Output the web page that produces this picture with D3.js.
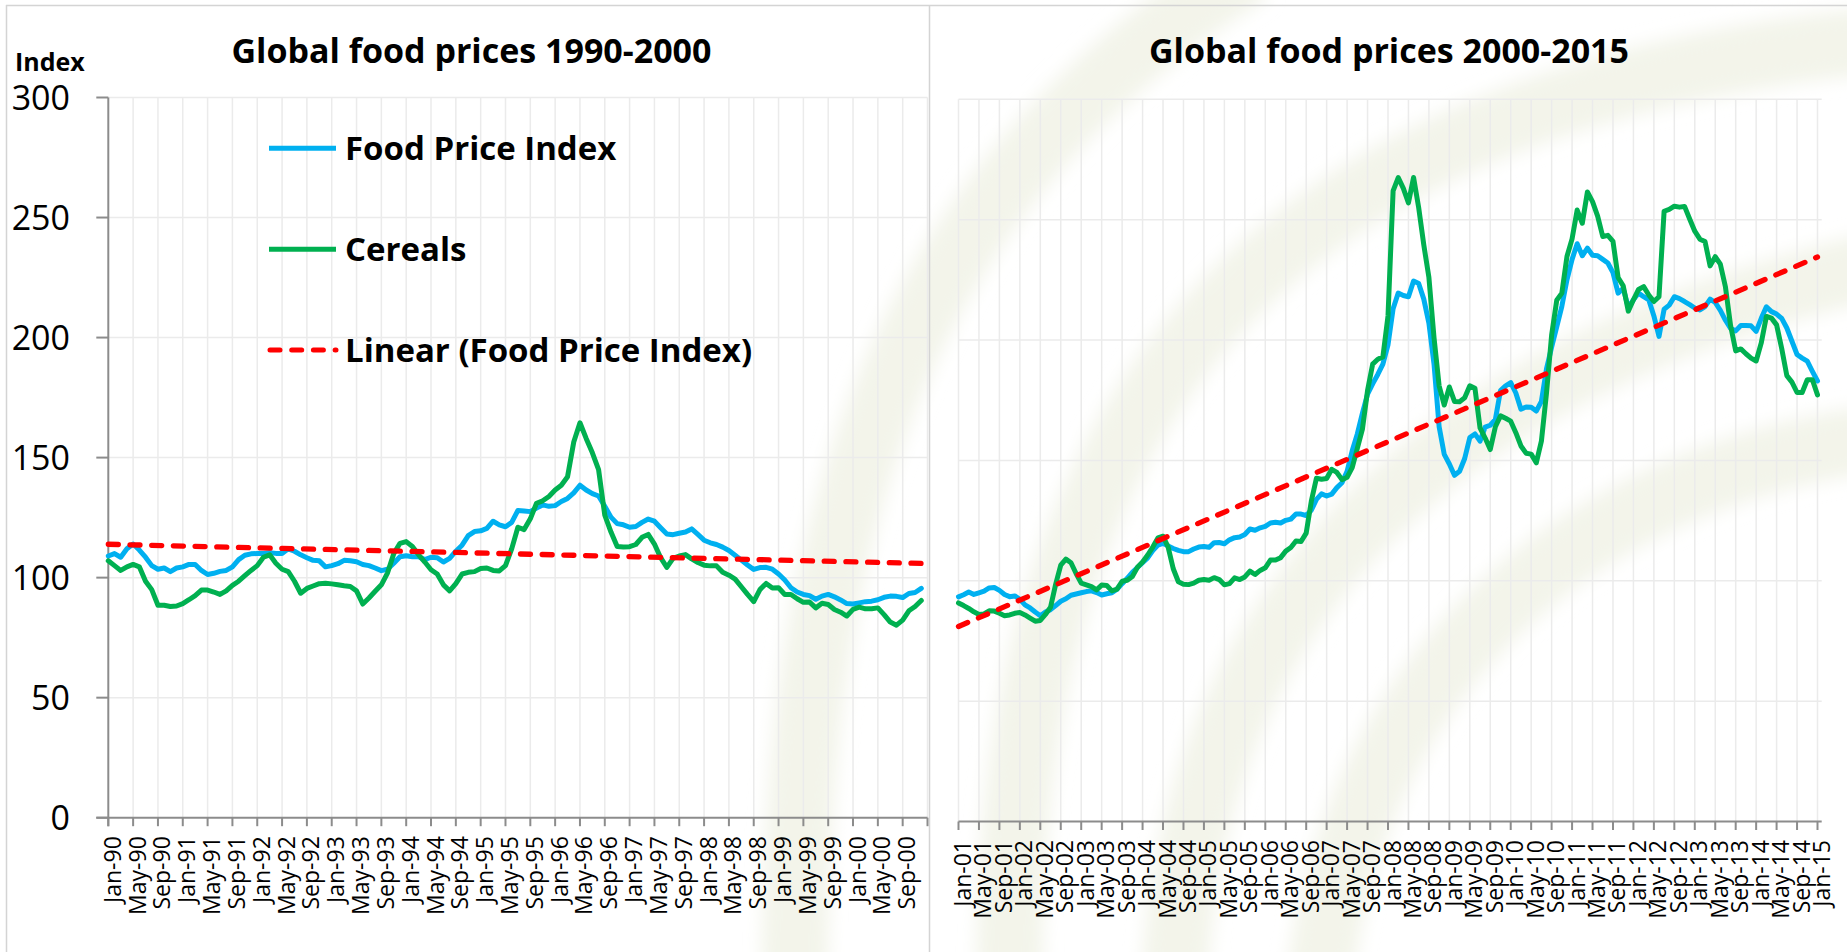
<!DOCTYPE html>
<html><head><meta charset="utf-8">
<script src="https://cdn.jsdelivr.net/npm/d3@7"></script>
<style>
html,body{margin:0;padding:0;background:#fff;}
svg{display:block;}
text{font-family:"Open Sans","Liberation Sans",sans-serif;fill:#000;}
</style></head><body>
<svg id="chart" width="1847" height="952"></svg>
<script>
// ---------------- DATA ----------------
const titles = ["Global food prices 1990-2000", "Global food prices 2000-2015"];
const yAxisTitle = "Index";
const legendLabels = ["Food Price Index", "Cereals", "Linear (Food Price Index)"];
const yTicks = [0, 50, 100, 150, 200, 250, 300];

// Monthly, Jan-1990 .. Dec-2000
const fpiLeft = [
 109.0,110.0,108.5,112.0,114.0,111.5,108.5,105.0,103.5,104.0,102.5,104.0,
 104.5,105.5,105.5,103.0,101.3,101.8,102.6,103.0,104.5,107.5,109.3,109.9,
 110.1,110.1,110.4,110.1,110.1,112.0,111.0,109.5,108.3,107.2,107.0,104.5,
 105.0,105.8,107.2,107.0,106.6,105.5,105.0,104.0,102.9,103.5,106.0,108.7,
 109.1,108.7,108.7,107.5,108.5,108.3,106.5,108.0,111.0,113.5,117.5,119.2,
 119.5,120.5,123.5,122.0,121.2,123.0,128.0,127.8,127.5,129.0,130.3,129.7,
 130.0,131.7,133.0,135.3,138.5,136.5,135.0,134.0,129.7,125.2,122.5,122.0,
 121.0,121.3,123.0,124.4,123.5,120.8,118.2,117.9,118.5,119.0,120.3,118.0,
 115.6,114.5,113.8,112.7,111.3,109.3,107.3,105.3,103.4,104.2,104.3,103.5,
 101.5,99.0,95.8,94.0,93.0,92.5,91.0,92.3,93.0,92.0,90.7,89.2,
 89.0,89.5,90.0,90.2,90.8,91.8,92.3,92.2,91.7,93.4,93.8,95.5
];
const cerealsLeft = [
 107.0,105.0,103.0,104.5,105.5,104.5,98.5,95.0,88.5,88.5,88.0,88.2,
 89.2,90.8,92.5,94.8,94.8,94.0,93.0,94.5,96.8,98.5,100.8,103.0,
 105.0,108.5,109.5,106.0,103.5,102.5,98.5,93.5,95.5,96.5,97.5,97.7,
 97.4,97.0,96.6,96.3,94.5,89.0,91.5,94.3,97.0,102.0,110.0,114.3,
 115.0,113.0,109.5,106.5,103.3,101.5,97.0,94.5,97.5,101.5,102.2,102.5,
 103.8,104.0,103.0,102.8,105.0,112.0,121.0,120.0,124.5,131.0,132.0,133.8,
 136.5,138.5,142.0,156.5,164.5,158.0,152.0,145.0,126.0,119.0,113.0,112.8,
 112.9,113.8,116.8,118.0,114.0,108.3,104.3,108.0,109.0,109.6,107.8,106.3,
 105.2,104.9,104.9,102.2,101.0,99.4,96.2,93.0,90.0,95.0,97.6,95.7,
 95.8,93.0,93.0,91.2,89.7,89.8,87.4,89.3,88.8,86.7,85.6,84.0,
 86.8,87.7,87.0,87.0,87.4,84.6,81.5,80.2,82.3,86.2,88.0,90.5
];
// Monthly, Jan-2001 .. Jan-2015
const fpiRight = [
 93.3,94.2,95.3,94.3,95.0,95.7,97.0,97.2,96.0,94.3,93.4,93.7,
 92.3,90.0,88.7,87.0,85.5,87.0,88.0,89.7,91.5,92.5,94.0,94.5,
 95.0,95.5,95.8,95.1,94.1,94.6,95.0,96.5,98.8,101.0,103.5,105.5,
 107.5,109.5,112.5,114.8,115.5,114.5,113.4,112.6,112.1,112.1,113.2,114.0,
 114.2,113.9,115.8,115.9,115.4,117.0,117.9,118.2,119.2,121.5,121.0,122.0,
 122.6,124.0,124.3,124.0,125.1,125.6,127.7,127.7,127.1,129.3,133.8,136.1,
 135.2,136.0,138.7,140.7,145.5,154.0,161.0,169.6,177.5,181.8,185.7,190.0,
 198.0,213.0,219.5,218.5,218.0,224.5,223.5,217.0,207.0,190.0,164.0,152.5,
 148.5,143.8,145.5,150.8,159.5,161.0,158.0,163.8,164.6,167.0,179.0,181.0,
 182.3,178.0,171.3,172.2,172.1,170.5,174.5,188.0,197.0,205.5,214.0,225.0,
 233.5,240.0,235.0,238.2,235.2,235.0,233.5,232.0,228.0,219.5,221.5,213.5,
 216.7,219.5,218.0,216.7,210.0,201.5,212.8,214.5,218.0,217.2,216.0,214.7,
 213.3,212.5,213.9,217.0,215.6,212.3,208.2,204.8,203.8,206.0,206.0,205.9,
 203.6,209.0,213.8,211.8,210.8,209.0,205.0,199.5,194.0,192.5,191.2,187.0,
 183.0
];
const cerealsRight = [
 90.8,89.7,88.5,87.1,86.0,86.2,87.5,87.4,86.5,85.5,85.8,86.5,
 86.8,85.8,84.5,83.2,83.5,86.0,89.0,98.5,106.5,109.0,107.5,103.0,
 99.0,98.3,97.6,96.2,98.2,98.0,95.8,96.5,99.8,100.2,101.8,105.6,
 107.8,110.7,114.0,117.8,118.5,114.0,105.0,99.6,98.6,98.4,99.0,100.2,
 100.5,100.2,101.3,100.5,98.3,98.8,101.2,100.5,101.6,104.0,102.6,104.3,
 105.4,108.6,108.6,109.6,112.3,113.8,116.5,116.3,119.8,133.0,142.6,142.2,
 142.5,146.3,145.0,142.0,143.0,147.0,155.0,163.0,179.0,190.0,192.0,193.0,
 210.0,262.0,267.5,263.0,257.0,267.5,255.0,239.5,226.0,201.0,181.0,173.0,
 180.5,174.5,174.4,176.0,181.0,180.0,163.5,159.3,154.5,164.0,168.5,167.5,
 166.3,161.5,156.0,153.0,152.6,149.0,158.0,178.0,202.0,216.5,219.5,234.7,
 242.0,254.0,248.5,261.5,257.5,251.5,243.0,243.5,241.0,226.0,222.5,212.0,
 216.7,221.0,222.2,218.7,216.0,218.0,253.5,254.3,255.6,255.2,255.5,250.3,
 245.2,241.9,240.9,230.8,234.6,231.5,222.0,206.0,195.5,196.3,194.3,192.5,
 191.3,198.8,209.8,209.1,206.3,196.5,185.2,182.5,178.2,178.2,183.5,183.5,
 177.2
];
// Linear trend of the Food Price Index: value at first and last month
const trendLeft = [113.9, 105.9];
const trendRight = [81.0, 234.5];

const startLeft = new Date(1990, 0, 1);
const startRight = new Date(2001, 0, 1);
const fmtMonth = d3.timeFormat("%b-%y");
const catsLeft = d3.range(fpiLeft.length).map(i => fmtMonth(d3.timeMonth.offset(startLeft, i)));
const catsRight = d3.range(fpiRight.length).map(i => fmtMonth(d3.timeMonth.offset(startRight, i)));

// ---------------- STYLE ----------------
const C_BLUE = "#00b0f0", C_GREEN = "#00b050", C_RED = "#ff0000";
const C_GRID = "#ebebeb", C_AXIS = "#8c8c8c", C_BORDER = "#d4d4d4";

const svg = d3.select("#chart");
svg.append("rect").attr("width", 1847).attr("height", 952).attr("fill", "#fff");

// faint background watermark (decorative arcs)
const defs = svg.append("defs");
defs.append("filter").attr("id", "soft").attr("x", "-20%").attr("y", "-20%").attr("width", "140%").attr("height", "140%")
  .append("feGaussianBlur").attr("stdDeviation", 9);
const wm = svg.append("g").attr("filter", "url(#soft)").attr("fill", "none")
  .attr("stroke", "#f3f4ea").attr("stroke-width", 66);
[
  "M795,980 C795,550 880,200 1250,-30",
  "M1010,980 C1005,420 1250,100 1880,40",
  "M1175,980 C1190,600 1450,360 1880,265",
  "M1320,980 C1350,700 1550,480 1880,438"
].forEach(d => wm.append("path").attr("d", d));

// borders
svg.append("line").attr("x1", 6).attr("x2", 1847).attr("y1", 5.5).attr("y2", 5.5).attr("stroke", C_BORDER).attr("stroke-width", 1.5);
svg.append("line").attr("x1", 6.5).attr("x2", 6.5).attr("y1", 5).attr("y2", 952).attr("stroke", C_BORDER).attr("stroke-width", 1.5);
svg.append("line").attr("x1", 929.5).attr("x2", 929.5).attr("y1", 5).attr("y2", 952).attr("stroke", C_BORDER).attr("stroke-width", 1.5);

function drawPanel(opt) {
  const g = svg.append("g");
  const x = d3.scaleLinear().domain([0, opt.tickSpan]).range([opt.x0, opt.x1]);
  const y = d3.scaleLinear().domain([0, 300]).range([opt.y0, opt.y1]);
  const tickIdx = d3.range(0, opt.tickSpan + 1, 4);

  // gridlines
  g.append("g").selectAll("line").data(yTicks.filter(v => v > 0)).join("line")
    .attr("x1", opt.x0).attr("x2", opt.gridEnd).attr("y1", d => y(d)).attr("y2", d => y(d))
    .attr("stroke", C_GRID).attr("stroke-width", 1.5);
  g.append("g").selectAll("line").data(tickIdx.filter(i => opt.showYAxis ? i > 0 : true)).join("line")
    .attr("x1", d => x(d)).attr("x2", d => x(d)).attr("y1", y(300)).attr("y2", y(0))
    .attr("stroke", C_GRID).attr("stroke-width", 1.5);

  // x axis
  g.append("line").attr("x1", opt.showYAxis ? opt.x0 - 12 : opt.x0).attr("x2", opt.axisEnd)
    .attr("y1", y(0)).attr("y2", y(0)).attr("stroke", C_AXIS).attr("stroke-width", 2);
  g.append("g").selectAll("line").data(tickIdx).join("line")
    .attr("x1", d => x(d)).attr("x2", d => x(d)).attr("y1", y(0)).attr("y2", y(0) + 8.5)
    .attr("stroke", C_AXIS).attr("stroke-width", 2);
  g.append("g").selectAll("text").data(tickIdx.filter(i => i < opt.cats.length)).join("text")
    .attr("transform", d => `translate(${x(d) + 12.5},${y(0) + 18.5}) rotate(-90)`)
    .attr("text-anchor", "end").attr("font-size", 23).text(d => opt.cats[d]);

  // y axis
  if (opt.showYAxis) {
    g.append("line").attr("x1", opt.x0).attr("x2", opt.x0).attr("y1", y(300)).attr("y2", y(0) + 8.5)
      .attr("stroke", C_AXIS).attr("stroke-width", 2);
    g.append("g").selectAll("line").data(yTicks).join("line")
      .attr("x1", opt.x0 - 12).attr("x2", opt.x0).attr("y1", d => y(d)).attr("y2", d => y(d))
      .attr("stroke", C_AXIS).attr("stroke-width", 2);
    g.append("g").selectAll("text").data(yTicks).join("text")
      .attr("x", 70).attr("y", d => y(d)).attr("dy", "0.36em").attr("text-anchor", "end")
      .attr("font-size", 34).text(d => d);
  }

  // series
  const line = d3.line().x((d, i) => x(i)).y(d => y(d));
  g.append("path").datum(opt.fpi).attr("d", line).attr("fill", "none").attr("stroke", C_BLUE)
    .attr("stroke-width", 5).attr("stroke-linejoin", "round").attr("stroke-linecap", "round");
  g.append("path").datum(opt.cereals).attr("d", line).attr("fill", "none").attr("stroke", C_GREEN)
    .attr("stroke-width", 5).attr("stroke-linejoin", "round").attr("stroke-linecap", "round");
  const lastI = opt.fpi.length - 1;
  g.append("line").attr("x1", x(0)).attr("y1", y(opt.trend[0])).attr("x2", x(lastI)).attr("y2", y(opt.trend[1]))
    .attr("stroke", C_RED).attr("stroke-width", 5.3).attr("stroke-dasharray", "10,11.7").attr("stroke-linecap", "round");

  // title
  g.append("text").attr("x", opt.titleX).attr("y", 63).attr("text-anchor", "middle")
    .attr("font-size", 34).attr("font-weight", 700).text(opt.title);
  return { x, y };
}

drawPanel({
  x0: 108.3, x1: 927.5, tickSpan: 132, y0: 817.7, y1: 97.5, gridEnd: 927.5, axisEnd: 927.5,
  cats: catsLeft, fpi: fpiLeft, cereals: cerealsLeft, trend: trendLeft,
  showYAxis: true, title: titles[0], titleX: 471.5
});
drawPanel({
  x0: 958.5, x1: 1817.5, tickSpan: 168, y0: 821.5, y1: 99.3, gridEnd: 1821.7, axisEnd: 1821.7,
  cats: catsRight, fpi: fpiRight, cereals: cerealsRight, trend: trendRight,
  showYAxis: false, title: titles[1], titleX: 1389
});

// y axis title
svg.append("text").attr("x", 15).attr("y", 71).attr("font-size", 25).attr("font-weight", 700).text(yAxisTitle);

// legend
const legendStyles = [
  { color: C_BLUE, dash: null },
  { color: C_GREEN, dash: null },
  { color: C_RED, dash: "10,11.7" }
];
const legendY = [148.3, 249.3, 350];
const lg = svg.append("g");
legendLabels.forEach((lab, k) => {
  const s = legendStyles[k];
  const ln = lg.append("line").attr("x1", 269).attr("x2", 336).attr("y1", legendY[k]).attr("y2", legendY[k])
    .attr("stroke", s.color).attr("stroke-width", 5);
  if (s.dash) ln.attr("stroke-dasharray", s.dash).attr("stroke-linecap", "round").attr("x1", 270);
  lg.append("text").attr("x", 345).attr("y", legendY[k] + 12).attr("font-size", 33).attr("font-weight", 700).text(lab);
});
</script>
</body></html>
